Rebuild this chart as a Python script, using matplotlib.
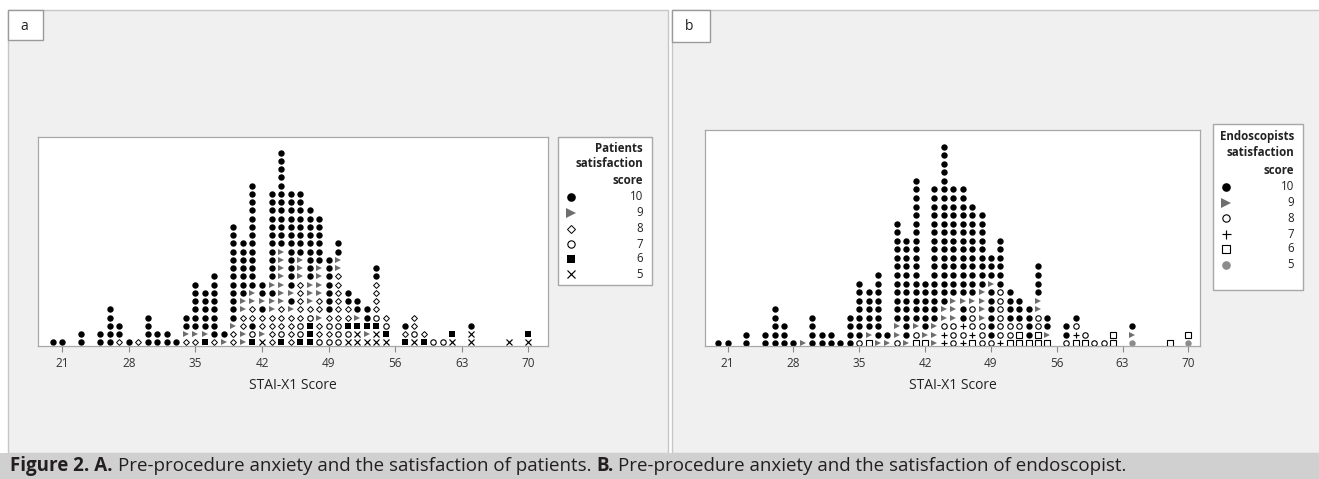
import numpy as np
import matplotlib.pyplot as plt
from matplotlib.patches import Rectangle

# STAI-X1 scores that have at least one patient (same patients in both panels)
scores = [20, 21, 23, 25, 26, 27, 28, 29, 30, 31, 32, 33, 34, 35, 36, 37, 38, 39, 40,
          41, 42, 43, 44, 45, 46, 47, 48, 49, 50, 51, 52, 53, 54, 55, 57, 58, 59, 60,
          61, 62, 64, 68, 70]

# one string per score, stacked bottom -> top, each char = satisfaction score ('0' means 10)
patients = ["0", "0", "00", "00", "00000", "800", "0", "8", "0000", "00", "00", "0",
            "8900", "89000000", "6900000", "800000000", "90",
            "889000000000000", "9988990000000", "67088990000000000000", "59880900",
            "8888990900000000000", "678889999999000000000000", "8888909000000000000",
            "6778888899900000000", "66678999000000000", "7889889999000000",
            "78780000000", "7778888889900", "5768800", "556900", "59600",
            "5567888800", "5678", "680", "5788", "68", "7", "7", "56", "550", "5", "56"]

endoscopists = ["0", "0", "00", "00", "00000", "000", "0", "9", "0000", "00", "00", "0",
                "0000", "80000000", "6900000", "900000000", "90",
                "899000000000000", "9000000000000", "68900000000000000000", "69000000",
                "9990000000000000000", "778990000000000000000000", "8889990000000000000",
                "7870090000000000000", "67888900000000000", "8889999000000000",
                "80000009000", "7888888000000", "6880000", "668000", "60000",
                "6688990000", "6900", "800", "6780", "68", "8", "8", "66", "590", "6", "56"]

sat_levels = ["10", "9", "8", "7", "6", "5"]
codes = ["0", "9", "8", "7", "6", "5"]
xticks = [21, 28, 35, 42, 49, 56, 63, 70]

GRAY = "#6e6e6e"
# marker styles for each panel, keyed by code
style_a = {
    "0": dict(marker="o", ms=4.6, mfc="black", mec="black", mew=0),
    "9": dict(marker=">", ms=5.0, mfc=GRAY, mec=GRAY, mew=0),
    "8": dict(marker="D", ms=3.0, mfc="white", mec="black", mew=0.7),
    "7": dict(marker="o", ms=3.9, mfc="white", mec="black", mew=0.8),
    "6": dict(marker="s", ms=4.2, mfc="black", mec="black", mew=0),
    "5": dict(marker="x", ms=4.2, mfc="black", mec="black", mew=0.85),
}
style_b = {
    "0": dict(marker="o", ms=4.6, mfc="black", mec="black", mew=0),
    "9": dict(marker=">", ms=5.0, mfc=GRAY, mec=GRAY, mew=0),
    "8": dict(marker="o", ms=3.9, mfc="white", mec="black", mew=0.8),
    "7": dict(marker="+", ms=4.8, mfc="black", mec="black", mew=0.85),
    "6": dict(marker="s", ms=4.0, mfc="white", mec="black", mew=0.8),
    "5": dict(marker="o", ms=4.6, mfc="#8c8c8c", mec="#8c8c8c", mew=0),
}

W, H = 1319, 479
plt.rcParams['font.family'] = ['Open Sans', 'DejaVu Sans']
fig = plt.figure(figsize=(W / 100, H / 100), dpi=100)


def fx(x):
    return x / W


def fy(y):
    return 1 - y / H


def box(x0, y0, x1, y1, fc, ec="none", lw=1.0, z=-5):
    fig.patches.append(Rectangle((fx(x0), fy(y1)), (x1 - x0) / W, (y1 - y0) / H,
                                 transform=fig.transFigure, facecolor=fc,
                                 edgecolor=ec, lw=lw, zorder=z))


# panel backgrounds, letter boxes and caption band
box(8, 10, 668, 453, "#f0f0f0", "#c6c6c6")
box(672, 10, 1330, 453, "#f0f0f0", "#c6c6c6")
box(8, 10, 43, 40, "white", "#9a9a9a")
box(672, 10, 710, 42, "white", "#9a9a9a")
box(0, 453, W, H, "#d0d0d0")
fig.text(fx(20), fy(26), "a", fontsize=10, va="center", color="#222222")
fig.text(fx(685), fy(27), "b", fontsize=10, va="center", color="#222222")


def dotplot(rect, cols, style, xlim, ylim):
    ax = fig.add_axes([fx(rect[0]), fy(rect[3]), (rect[2] - rect[0]) / W, (rect[3] - rect[1]) / H])
    ax.set_facecolor("white")
    for c in codes:
        xs, ys = [], []
        for s, stack in zip(scores, cols):
            for k, ch in enumerate(stack):
                if ch == c:
                    xs.append(s)
                    ys.append(k)
        ax.plot(xs, ys, ls="none", **style[c])
    ax.set_xlim(xlim)
    ax.set_ylim(ylim)
    ax.set_xticks(xticks)
    ax.set_yticks([])
    ax.tick_params(axis="x", direction="out", length=4, width=0.8, color="#8a8a8a",
                   labelsize=8.5, labelcolor="#333333", pad=4)
    for sp in ax.spines.values():
        sp.set_color("#a8a8a8")
        sp.set_linewidth(0.9)
    ax.set_xlabel("STAI-X1 Score", fontsize=10, color="#222222", labelpad=6)
    return ax


dotplot((38, 137, 548, 346), patients, style_a, (18.45, 72.07), (-0.45, 24.9))
dotplot((705, 130, 1200, 346), endoscopists, style_b, (18.59, 71.24), (-0.3, 24.95))


def legend(x0, y0, x1, y1, title, ytitle, yitems, style):
    box(x0, y0, x1, y1, "white", "#a8a8a8", z=1)
    for t, yy in zip(title, ytitle):
        fig.text(fx(x1 - 9), fy(yy), t, fontsize=8.3, fontweight="bold", ha="right",
                 va="center", color="#222222", zorder=3)
    for lab, c, yy in zip(sat_levels, codes, yitems):
        st = dict(style[c])
        st["ms"] = st["ms"] * 1.35
        fig.lines.append(plt.Line2D([fx(x0 + 13)], [fy(yy)], transform=fig.transFigure,
                                    ls="none", zorder=3, **st))
        fig.text(fx(x1 - 9), fy(yy), lab, fontsize=8.3, ha="right", va="center",
                 color="#222222", zorder=3)


legend(558, 137, 652, 285, ["Patients", "satisfaction", "score"], [148, 164, 180],
       [197, 213, 229, 244, 259, 274], style_a)
legend(1213, 124, 1303, 290, ["Endoscopists", "satisfaction", "score"], [137, 153, 170],
       [187, 203, 218, 234, 249, 265], style_b)

# caption with bold parts
parts = [("Figure 2. A.", "bold"), ("Pre-procedure anxiety and the satisfaction of patients.", "normal"),
         ("B.", "bold"), ("Pre-procedure anxiety and the satisfaction of endoscopist.", "normal")]
r = fig.canvas.get_renderer()
x = fx(10)
for s, w in parts:
    t = fig.text(x, fy(466), s, fontsize=13.5, fontweight=w, va="center", color="#231f20")
    bb = t.get_window_extent(renderer=r)
    x += (bb.width + 5) / W

fig.savefig("out.png", dpi=100)
